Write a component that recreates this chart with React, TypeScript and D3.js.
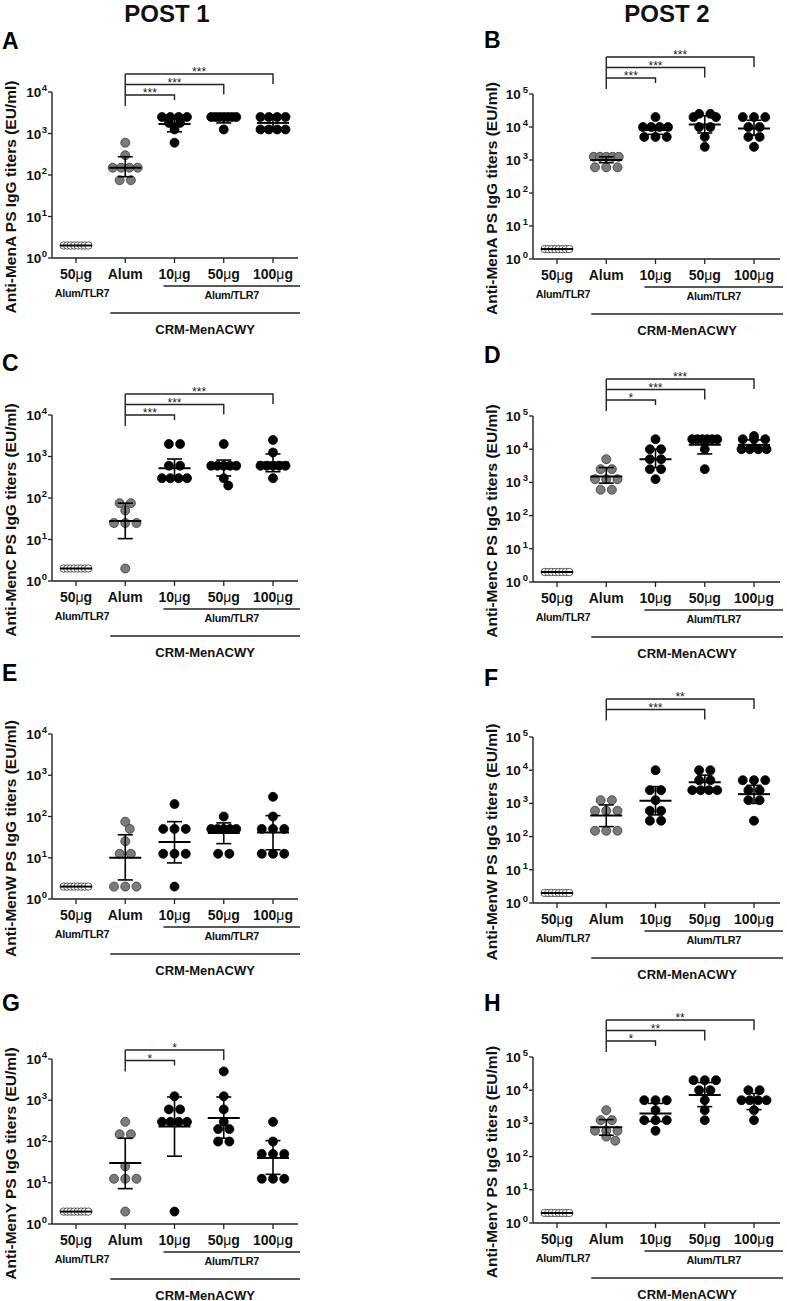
import React from "react";
import * as d3 from "d3";

// ---------- categories & labels ----------
const categories = ["50", "Alum", "10", "50", "100"]; // μg suffix added for dose groups
const categoryHasUnit = [true, false, true, true, true];
const columnTitles = ["POST 1", "POST 2"];
const panelLetters = ["A", "B", "C", "D", "E", "F", "G", "H"];
const yTitles = [
  "Anti-MenA PS IgG titers (EU/ml)",
  "Anti-MenA PS IgG titers (EU/ml)",
  "Anti-MenC PS IgG titers (EU/ml)",
  "Anti-MenC PS IgG titers (EU/ml)",
  "Anti-MenW PS IgG titers (EU/ml)",
  "Anti-MenW PS IgG titers (EU/ml)",
  "Anti-MenY PS IgG titers (EU/ml)",
  "Anti-MenY PS IgG titers (EU/ml)",
];
const yMaxExp = [4, 5, 4, 5, 4, 5, 4, 5];

// ---------- data: values per group ----------
const baseline = [2, 2, 2, 2, 2, 2, 2, 2];

const menA_post1 = [
  baseline,
  [600, 300, 150, 150, 150, 150, 75, 75],
  [2500, 2500, 2500, 2500, 1800, 1800, 1250, 600],
  [2500, 2500, 2500, 2500, 2500, 2500, 2500, 1250],
  [2500, 2500, 2500, 2500, 1250, 1250, 1250, 1250],
];
const menA_post2 = [
  baseline,
  [1250, 1250, 1250, 1250, 1250, 600, 600, 600],
  [20000, 10000, 10000, 10000, 10000, 5000, 5000, 5000],
  [25000, 25000, 20000, 20000, 10000, 10000, 5000, 2500],
  [20000, 20000, 20000, 10000, 10000, 5000, 5000, 2500],
];
const menC_post1 = [
  baseline,
  [75, 75, 50, 25, 25, 25, 2],
  [2000, 2000, 600, 600, 300, 300, 300, 300],
  [2000, 600, 600, 600, 600, 600, 300, 200],
  [2500, 1250, 600, 600, 600, 600, 600, 300],
];
const menC_post2 = [
  baseline,
  [5000, 2500, 2500, 1250, 1250, 1250, 600, 600],
  [20000, 10000, 10000, 5000, 5000, 2500, 2500, 1250],
  [20000, 20000, 20000, 20000, 20000, 20000, 10000, 2500],
  [25000, 20000, 20000, 20000, 10000, 10000, 10000, 10000],
];
const menW_post1 = [
  baseline,
  [75, 50, 25, 12.5, 12.5, 2, 2, 2],
  [200, 50, 50, 50, 12.5, 12.5, 12.5, 2],
  [100, 50, 50, 50, 50, 50, 12.5, 12.5],
  [300, 100, 50, 50, 50, 12.5, 12.5, 12.5],
];
const menW_post2 = [
  baseline,
  [1250, 1250, 600, 600, 600, 150, 150, 150],
  [10000, 2500, 2500, 1250, 600, 600, 300, 300],
  [10000, 10000, 5000, 5000, 2500, 2500, 2500, 2500],
  [5000, 5000, 5000, 2500, 2500, 1250, 1250, 300],
];
const menY_post1 = [
  baseline,
  [300, 150, 150, 25, 12.5, 12.5, 12.5, 2],
  [1250, 600, 600, 300, 300, 300, 300, 2],
  [5000, 1250, 600, 300, 200, 200, 100, 100],
  [300, 100, 50, 50, 50, 12.5, 12.5, 12.5],
];
const menY_post2 = [
  baseline,
  [2500, 1250, 1250, 600, 600, 600, 400, 300],
  [5000, 5000, 5000, 2500, 1250, 1250, 1250, 600],
  [20000, 20000, 20000, 10000, 10000, 5000, 2500, 1250],
  [10000, 10000, 5000, 5000, 5000, 5000, 2500, 1250],
];

// ---------- summary lines: [mean, lower, upper] per group ----------
const menA_post1_stats = [[2, 2, 2], [150, 91, 275], [1700, 1100, 2500], [2300, 1800, 2500], [1800, 1400, 2300]];
const menA_post2_stats = [[2, 2, 2], [1000, 830, 1250], [8100, 6000, 11000], [12000, 6600, 22000], [9000, 5700, 16000]];
const menC_post1_stats = [[2, 2, 2], [28, 10.5, 75], [520, 320, 870], [520, 340, 820], [720, 430, 1150]];
const menC_post2_stats = [[2, 2, 2], [1500, 950, 2800], [5000, 2800, 10000], [13500, 7200, 20000], [13500, 10000, 19000]];
const menW_post1_stats = [[2, 2, 2], [10, 2.9, 36], [24, 7.5, 75], [40, 22, 70], [41, 15.6, 105]];
const menW_post2_stats = [[2, 2, 2], [430, 200, 900], [1200, 450, 3200], [4300, 2500, 7100], [1900, 1000, 3500]];
const menY_post1_stats = [[2, 2, 2], [30, 7.2, 120], [230, 44, 1200], [370, 120, 1200], [40, 16, 105]];
const menY_post2_stats = [[2, 2, 2], [760, 440, 1300], [2000, 1150, 4000], [7200, 3200, 17000], [4900, 2600, 8000]];

// ---------- significance brackets (from Alum group to target index) ----------
const menA_post1_sig = [{ to: 4, label: "***" }, { to: 3, label: "***" }, { to: 2, label: "***" }];
const menA_post2_sig = [{ to: 4, label: "***" }, { to: 3, label: "***" }, { to: 2, label: "***" }];
const menC_post1_sig = [{ to: 4, label: "***" }, { to: 3, label: "***" }, { to: 2, label: "***" }];
const menC_post2_sig = [{ to: 4, label: "***" }, { to: 3, label: "***" }, { to: 2, label: "*" }];
const menW_post1_sig: { to: number; label: string }[] = [];
const menW_post2_sig = [{ to: 4, label: "**" }, { to: 3, label: "***" }];
const menY_post1_sig = [{ to: 3, label: "*" }, { to: 2, label: "*" }];
const menY_post2_sig = [{ to: 4, label: "**" }, { to: 3, label: "**" }, { to: 2, label: "*" }];

const panelValues = [menA_post1, menA_post2, menC_post1, menC_post2, menW_post1, menW_post2, menY_post1, menY_post2];
const panelStats = [menA_post1_stats, menA_post2_stats, menC_post1_stats, menC_post2_stats, menW_post1_stats, menW_post2_stats, menY_post1_stats, menY_post2_stats];
const panelSig = [menA_post1_sig, menA_post2_sig, menC_post1_sig, menC_post2_sig, menW_post1_sig, menW_post2_sig, menY_post1_sig, menY_post2_sig];

// ---------- layout ----------
const W = 787;
const H = 1301;
const FONT = "'Liberation Sans', Arial, Helvetica, sans-serif";
const columns = [
  { axisX: 52, first: 76, last: 273, end: 298, lineEnd: 300, titleX: 167, letterX: 2, yTitleX: 16 },
  { axisX: 533, first: 557, last: 754, end: 780, lineEnd: 783, titleX: 667, letterX: 484, yTitleX: 497 },
];
const layout = [
  { col: 0, yTop: 92, y0: 258, letterBase: 49, bracketTop: 74 },
  { col: 1, yTop: 94, y0: 259, letterBase: 48, bracketTop: 57 },
  { col: 0, yTop: 415, y0: 581, letterBase: 371, bracketTop: 394 },
  { col: 1, yTop: 416, y0: 582, letterBase: 363, bracketTop: 379 },
  { col: 0, yTop: 734, y0: 899, letterBase: 681, bracketTop: 0 },
  { col: 1, yTop: 737, y0: 903, letterBase: 686, bracketTop: 699 },
  { col: 0, yTop: 1059, y0: 1224, letterBase: 1011, bracketTop: 1050 },
  { col: 1, yTop: 1057, y0: 1223, letterBase: 1011, bracketTop: 1020 },
];

const R_FILLED = 4.5;
const R_OPEN = 3.7;

function swarm(vals: number[], y: (v: number) => number, r: number, maxW: number) {
  const d = 2 * r;
  const rows = d3.rollups(vals, (v) => v.length, (v) => v).sort((a, b) => b[0] - a[0]);
  const placed: { dx: number; y: number }[] = [];
  for (const [v, n] of rows) {
    const py = y(v);
    const s = n === 1 ? 0 : Math.min(d * 1.25, (maxW - d) / (n - 1));
    const base = d3.range(n).map((i) => (i - (n - 1) / 2) * s);
    const step = d * 0.5;
    let chosen: number[] | null = null;
    let fallback: number[] = base;
    let bestScore = -Infinity;
    const mults = n === 2 ? [1, 2] : [1];
    for (const mult of mults) {
      for (const k of [0, 1, -1, 2, -2]) {
        const xs = base.map((b) => b * mult + k * step);
        let md = Infinity;
        for (const x of xs) for (const p of placed) md = Math.min(md, Math.hypot(x - p.dx, py - p.y));
        if (md >= d * 0.85) {
          chosen = xs;
          break;
        }
        const score = md - 0.6 * Math.abs(k * step) - (mult - 1) * 3;
        if (score > bestScore) {
          bestScore = score;
          fallback = xs;
        }
      }
      if (chosen) break;
    }
    const xs = chosen || fallback;
    xs.forEach((dx) => placed.push({ dx, y: py }));
  }
  return placed;
}

function Panel({ idx }: { idx: number }) {
  const L = layout[idx];
  const C = columns[L.col];
  const maxExp = yMaxExp[idx];
  const y = d3.scaleLog().domain([1, Math.pow(10, maxExp)]).range([L.y0, L.yTop]);
  const x = d3.scalePoint<number>().domain(d3.range(categories.length)).range([C.first, C.last]);
  const ticks = d3.range(0, maxExp + 1);
  const values = panelValues[idx];
  const stats = panelStats[idx];
  const sig = panelSig[idx];
  const y0 = L.y0;
  const supGap = L.col === 1 ? 2 : 0.5;

  return (
    <g>
      <text x={C.letterX} y={L.letterBase} fontSize={23} fontWeight="bold" fontFamily={FONT}>
        {panelLetters[idx]}
      </text>
      <text
        transform={`translate(${C.yTitleX},${(L.yTop + L.y0) / 2 + 22}) rotate(-90)`}
        textAnchor="middle"
        fontSize={15.5}
        fontWeight="bold"
        fontFamily={FONT}
        fill="#111"
      >
        {yTitles[idx]}
      </text>
      <line x1={C.axisX} x2={C.axisX} y1={L.yTop} y2={L.y0} stroke="#222" strokeWidth={1.4} />
      {ticks.map((e) => (
        <g key={e}>
          <line x1={C.axisX - 4} x2={C.axisX} y1={y(Math.pow(10, e))} y2={y(Math.pow(10, e))} stroke="#222" strokeWidth={1.3} />
          <text
            x={C.axisX - 5}
            y={y(Math.pow(10, e)) + 5}
            textAnchor="end"
            fontSize={13.5}
            fontWeight="bold"
            fontFamily={FONT}
            fill="#111"
          >
            10
            <tspan dx={supGap} dy={-6} fontSize={9.5}>
              {e}
            </tspan>
          </text>
        </g>
      ))}
      <line x1={C.axisX} x2={C.end} y1={y0} y2={y0} stroke="#222" strokeWidth={1.4} />
      {categories.map((c, i) => (
        <g key={i}>
          <line x1={x(i)!} x2={x(i)!} y1={y0} y2={y0 + 5} stroke="#222" strokeWidth={1.3} />
          <text x={x(i)!} y={y0 + 21} textAnchor="middle" fontSize={14} fontWeight="bold" fontFamily={FONT} fill="#111">
            {c}
            {categoryHasUnit[i] ? <tspan fontWeight="normal">{"μ"}</tspan> : null}
            {categoryHasUnit[i] ? "g" : null}
          </text>
        </g>
      ))}
      <text x={x(0)! + 6} y={y0 + 39} textAnchor="middle" fontSize={10.8} fontWeight="bold" fontFamily={FONT} fill="#111" letterSpacing={-0.3}>
        Alum/TLR7
      </text>
      <line x1={x(2)! - 11} x2={C.lineEnd} y1={y0 + 28} y2={y0 + 28} stroke="#222" strokeWidth={1.4} />
      <text x={(x(2)! - 11 + C.lineEnd) / 2} y={y0 + 41} textAnchor="middle" fontSize={10.8} fontWeight="bold" fontFamily={FONT} fill="#111" letterSpacing={-0.3}>
        Alum/TLR7
      </text>
      <line x1={x(1)! - 15} x2={C.lineEnd} y1={y0 + 55} y2={y0 + 55} stroke="#222" strokeWidth={1.4} />
      <text x={(x(1)! - 15 + C.lineEnd) / 2} y={y0 + 75.5} textAnchor="middle" fontSize={13} fontWeight="bold" fontFamily={FONT} fill="#111">
        CRM-MenACWY
      </text>
      {values.map((vals, gi) => {
        const r = gi === 0 ? R_OPEN : R_FILLED;
        const maxW = gi === 0 ? 32 : 34;
        const pts = swarm(vals, (v) => y(v), r, maxW);
        const fill = gi === 0 ? "#fff" : gi === 1 ? "#7b7b7b" : "#000";
        const stroke = gi === 0 ? "#333" : gi === 1 ? "#3a3a3a" : "#000";
        return (
          <g key={gi}>
            {pts.map((p, k) => (
              <circle key={k} cx={x(gi)! + p.dx} cy={p.y} r={r} fill={fill} stroke={stroke} strokeWidth={0.8} />
            ))}
          </g>
        );
      })}
      {stats.map(([m, lo, hi], gi) => {
        const cx = x(gi)!;
        return (
          <g key={gi} stroke="#000">
            <line x1={cx - 16} x2={cx + 16} y1={y(m)} y2={y(m)} strokeWidth={2} />
            {gi > 0 ? (
              <>
                <line x1={cx} x2={cx} y1={y(lo)} y2={y(hi)} strokeWidth={1.6} />
                <line x1={cx - 7.5} x2={cx + 7.5} y1={y(hi)} y2={y(hi)} strokeWidth={1.6} />
                <line x1={cx - 7.5} x2={cx + 7.5} y1={y(lo)} y2={y(lo)} strokeWidth={1.6} />
              </>
            ) : null}
          </g>
        );
      })}
      {sig.length > 0 ? (
        <g>
          {sig.map((b, k) => {
            const ly = L.bracketTop + k * 10.5;
            const leg = b.to === 2 ? 5 : 10;
            const xl = x(1)!;
            const xr = x(b.to)!;
            return (
              <g key={k}>
                <path d={`M${xl},${ly}H${xr}V${ly + leg}`} fill="none" stroke="#222" strokeWidth={1.4} />
                <text x={(xl + xr) / 2} y={ly + 2} textAnchor="middle" fontSize={12} fontFamily={FONT} fill="#222">
                  {b.label}
                </text>
              </g>
            );
          })}
          <line
            x1={x(1)!}
            x2={x(1)!}
            y1={L.bracketTop}
            y2={L.bracketTop + (sig.length - 1) * 10.5 + 11}
            stroke="#222"
            strokeWidth={1.4}
          />
        </g>
      ) : null}
    </g>
  );
}

export default function App() {
  return (
    <svg
      width={W}
      height={H}
      viewBox={`0 0 ${W} ${H}`}
      style={{ position: "absolute", left: 0, top: 0, background: "#fff" }}
    >
      <rect width={W} height={H} fill="#fff" />
      {columnTitles.map((t, i) => (
        <text key={t} x={columns[i].titleX} y={22} textAnchor="middle" fontSize={24} fontWeight="bold" fontFamily={FONT} fill="#111">
          {t}
        </text>
      ))}
      {layout.map((_, i) => (
        <Panel key={i} idx={i} />
      ))}
    </svg>
  );
}
